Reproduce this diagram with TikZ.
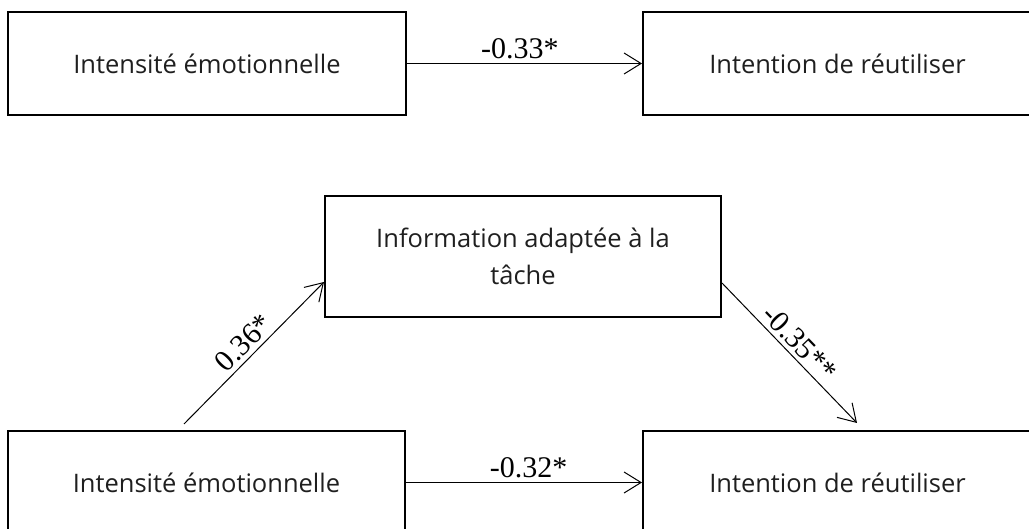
\documentclass[tikz,border=0pt]{standalone}
\usepackage{fontspec}
\setmainfont{Open Sans}
\newfontfamily\labelfont{Liberation Serif}
\usetikzlibrary{arrows.meta}
\begin{document}
\begin{tikzpicture}[x=1pt,y=-1pt,
  varbox/.style={draw=black, line width=2pt, rectangle, inner sep=0pt,
    font=\fontsize{25.5}{37}\selectfont, text=black!88, align=center},
  pathline/.style={draw=black, line width=1pt,
    -{Straight Barb[length=17pt,width=21pt,line width=1pt]}},
  coef/.style={font=\labelfont\fontsize{30}{32}\selectfont, inner sep=4pt}]
\useasboundingbox (0,0) rectangle (1029,529);
\node[varbox, minimum width=398pt, minimum height=103pt] (tl) at (207,63.5) {Intensité émotionnelle};
\node[varbox, minimum width=389pt, minimum height=103pt] (tr) at (837.5,63.5) {Intention de réutiliser};
\node[varbox, minimum width=396pt, minimum height=121pt] (mid) at (523,256.5) {Information adaptée à la\\tâche};
\node[varbox, minimum width=397pt, minimum height=103pt] (bl) at (206.5,482.5) {Intensité émotionnelle};
\node[varbox, minimum width=389pt, minimum height=103pt] (br) at (837.5,482.5) {Intention de réutiliser};
\draw[pathline] (tl.east) -- node[coef, above, pos=0.48] {-0.33*} (tr.west);
\draw[pathline] (bl.east) -- node[coef, above, pos=0.52] {-0.32*} (br.west);
\draw[pathline] ([xshift=177pt,yshift=6pt]bl.north west) -- node[coef, above, sloped, midway] {0.36*} ([yshift=-25.5pt]mid.west);
\draw[pathline] ([yshift=-26.5pt]mid.east) -- node[coef, above, sloped, pos=0.5] {-0.35**} ([xshift=215pt,yshift=7pt]br.north west);
\end{tikzpicture}
\end{document}
